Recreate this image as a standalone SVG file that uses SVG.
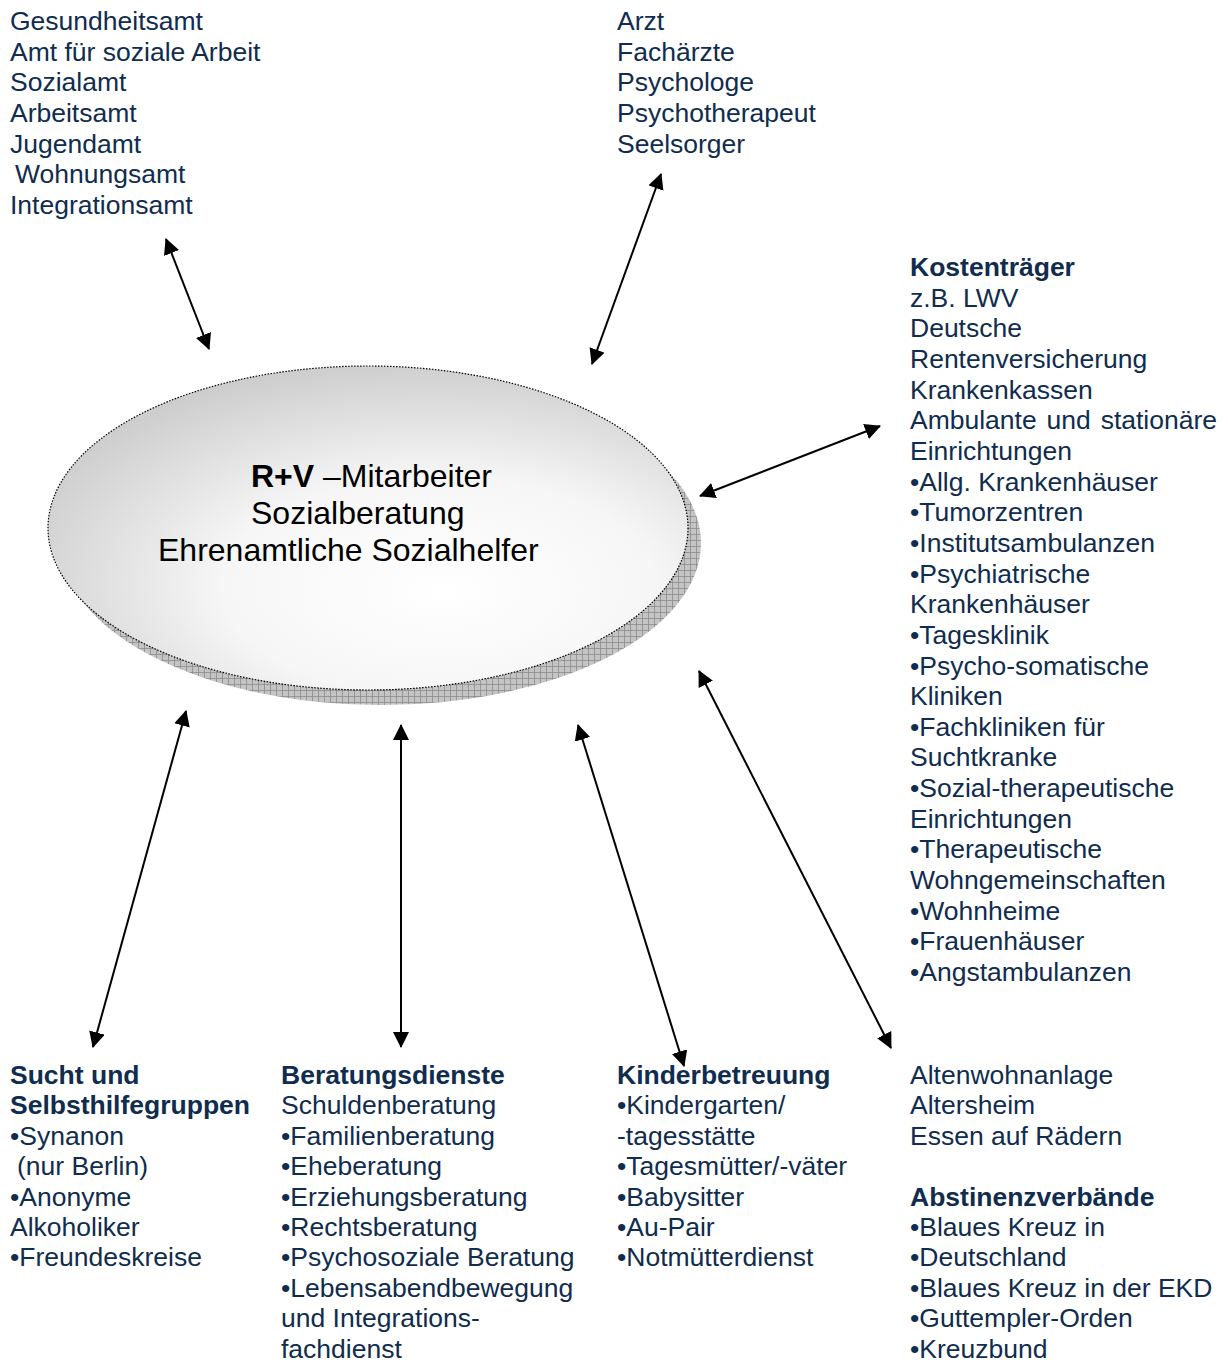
<svg xmlns="http://www.w3.org/2000/svg" width="1228" height="1364" viewBox="0 0 1228 1364">
<style>
.t{font-family:"Liberation Sans",Arial,sans-serif;font-size:26.5px;fill:#102c4e}
.b{font-weight:bold}
.c{font-family:"Liberation Sans",Arial,sans-serif;font-size:32px;fill:#000}
.a{stroke:#000;stroke-width:2;fill:none;marker-start:url(#ah);marker-end:url(#ah)}
</style>
<defs>
<marker id="ah" markerUnits="userSpaceOnUse" markerWidth="18" markerHeight="18" refX="15" refY="8" orient="auto-start-reverse">
<path d="M0,0 L16,8 L0,16 z" fill="#000"/>
</marker>
<pattern id="hatch" width="6" height="6" patternUnits="userSpaceOnUse">
<rect width="6" height="6" fill="#c4c4c4"/>
<path d="M0,0.5 H6 M0.5,0 V6" stroke="#8c8c8c" stroke-width="0.8"/>
</pattern>
<radialGradient id="g" cx="0.6" cy="0.66" r="0.68" fx="0.62" fy="0.7">
<stop offset="0" stop-color="#ffffff"/>
<stop offset="0.5" stop-color="#f6f6f6"/>
<stop offset="1" stop-color="#cdcdcd"/>
</radialGradient>
</defs>
<rect width="1228" height="1364" fill="#fff"/>

<g id="center">
<ellipse cx="381" cy="543" rx="320" ry="162" fill="url(#hatch)"/>
<ellipse cx="368" cy="528" rx="320" ry="162" fill="url(#g)" stroke="#000" stroke-width="1.2" stroke-dasharray="1.5 1.5"/>
<text class="c" x="251" y="487"><tspan font-weight="bold">R+V</tspan> –Mitarbeiter</text>
<text class="c" x="251" y="524">Sozialberatung</text>
<text class="c" x="158" y="561">Ehrenamtliche Sozialhelfer</text>
</g>

<g id="connectors">
<line class="a" x1="166" y1="239" x2="209" y2="349"/>
<line class="a" x1="661" y1="174" x2="592" y2="364"/>
<line class="a" x1="880" y1="426" x2="700" y2="496"/>
<line class="a" x1="186" y1="711" x2="93" y2="1047"/>
<line class="a" x1="401" y1="725" x2="401" y2="1047"/>
<line class="a" x1="578" y1="725" x2="684" y2="1066"/>
<line class="a" x1="699" y1="671" x2="891" y2="1048"/>
</g>

<g id="aemter">
<text class="t" x="10" y="30">Gesundheitsamt</text>
<text class="t" x="10" y="60.7">Amt für soziale Arbeit</text>
<text class="t" x="10" y="91.4">Sozialamt</text>
<text class="t" x="10" y="122">Arbeitsamt</text>
<text class="t" x="10" y="152.7">Jugendamt</text>
<text class="t" x="15" y="183.4">Wohnungsamt</text>
<text class="t" x="10" y="214">Integrationsamt</text>
</g>

<g id="aerzte">
<text class="t" x="617" y="30">Arzt</text>
<text class="t" x="617" y="60.7">Fachärzte</text>
<text class="t" x="617" y="91.4">Psychologe</text>
<text class="t" x="617" y="122">Psychotherapeut</text>
<text class="t" x="617" y="152.7">Seelsorger</text>
</g>

<g id="kostentraeger">
<text class="t b" x="910" y="276">Kostenträger</text>
<text class="t" x="910" y="306.7">z.B. LWV</text>
<text class="t" x="910" y="337.3">Deutsche</text>
<text class="t" x="910" y="368">Rentenversicherung</text>
<text class="t" x="910" y="398.6">Krankenkassen</text>
<text class="t" x="910" y="429.3" word-spacing="2.5">Ambulante und stationäre</text>
<text class="t" x="910" y="459.9">Einrichtungen</text>
<text class="t" x="910" y="490.6">•Allg. Krankenhäuser</text>
<text class="t" x="910" y="521.2">•Tumorzentren</text>
<text class="t" x="910" y="551.9">•Institutsambulanzen</text>
<text class="t" x="910" y="582.5">•Psychiatrische</text>
<text class="t" x="910" y="613.2">Krankenhäuser</text>
<text class="t" x="910" y="643.8">•Tagesklinik</text>
<text class="t" x="910" y="674.5">•Psycho-somatische</text>
<text class="t" x="910" y="705.1">Kliniken</text>
<text class="t" x="910" y="735.8">•Fachkliniken für</text>
<text class="t" x="910" y="766.4">Suchtkranke</text>
<text class="t" x="910" y="797.1">•Sozial-therapeutische</text>
<text class="t" x="910" y="827.7">Einrichtungen</text>
<text class="t" x="910" y="858.4">•Therapeutische</text>
<text class="t" x="910" y="889">Wohngemeinschaften</text>
<text class="t" x="910" y="919.7">•Wohnheime</text>
<text class="t" x="910" y="950.3">•Frauenhäuser</text>
<text class="t" x="910" y="981">•Angstambulanzen</text>
</g>

<g id="sucht">
<text class="t b" x="10" y="1084">Sucht und</text>
<text class="t b" x="10" y="1114.4">Selbsthilfegruppen</text>
<text class="t" x="10" y="1144.8">•Synanon</text>
<text class="t" x="17" y="1175.2">(nur Berlin)</text>
<text class="t" x="10" y="1205.6">•Anonyme</text>
<text class="t" x="10" y="1236">Alkoholiker</text>
<text class="t" x="10" y="1266.4">•Freundeskreise</text>
</g>

<g id="beratung">
<text class="t b" x="281" y="1084">Beratungsdienste</text>
<text class="t" x="281" y="1114.4">Schuldenberatung</text>
<text class="t" x="281" y="1144.8">•Familienberatung</text>
<text class="t" x="281" y="1175.2">•Eheberatung</text>
<text class="t" x="281" y="1205.6">•Erziehungsberatung</text>
<text class="t" x="281" y="1236">•Rechtsberatung</text>
<text class="t" x="281" y="1266.4">•Psychosoziale Beratung</text>
<text class="t" x="281" y="1296.8">•Lebensabendbewegung</text>
<text class="t" x="281" y="1327.2">und Integrations-</text>
<text class="t" x="281" y="1357.6">fachdienst</text>
</g>

<g id="kinder">
<text class="t b" x="617" y="1084">Kinderbetreuung</text>
<text class="t" x="617" y="1114.4">•Kindergarten/</text>
<text class="t" x="617" y="1144.8">-tagesstätte</text>
<text class="t" x="617" y="1175.2">•Tagesmütter/-väter</text>
<text class="t" x="617" y="1205.6">•Babysitter</text>
<text class="t" x="617" y="1236">•Au-Pair</text>
<text class="t" x="617" y="1266.4">•Notmütterdienst</text>
</g>

<g id="alten">
<text class="t" x="910" y="1084">Altenwohnanlage</text>
<text class="t" x="910" y="1114.4">Altersheim</text>
<text class="t" x="910" y="1144.8">Essen auf Rädern</text>
<text class="t b" x="910" y="1205.6">Abstinenzverbände</text>
<text class="t" x="910" y="1236">•Blaues Kreuz in</text>
<text class="t" x="910" y="1266.4">•Deutschland</text>
<text class="t" x="910" y="1296.8">•Blaues Kreuz in der EKD</text>
<text class="t" x="910" y="1327.2">•Guttempler-Orden</text>
<text class="t" x="910" y="1357.6">•Kreuzbund</text>
</g>
</svg>
